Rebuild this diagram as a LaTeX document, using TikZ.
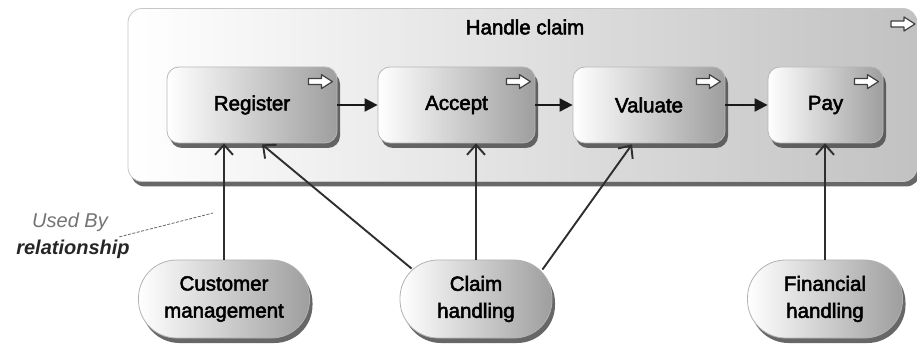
\documentclass[tikz,border=0pt]{standalone}
\usepackage{fontspec}
\setmainfont{Liberation Sans}
\newfontfamily\labelfont[FakeBold=2.5]{Liberation Sans}
\usetikzlibrary{shadows,arrows.meta,calc}

\begin{document}
\begin{tikzpicture}[x=1pt,y=-1pt,
  txt/.style={font=\labelfont\fontsize{20.5}{27}\selectfont, text=black},
  shadowed/.style={drop shadow={shadow xshift=3pt, shadow yshift=-5pt, fill=black!70, opacity=0.85}},
  container/.style={shadowed, rounded corners=14pt, draw=black!22, line width=0.8pt,
    left color=white, right color=black!24, minimum width=789pt, minimum height=173pt},
  process/.style={shadowed, txt, rounded corners=12pt, draw=black!28, line width=0.8pt,
    left color=white, right color=black!38, minimum height=76pt},
  service/.style={shadowed, txt, rounded corners=38pt, draw=black!30, line width=0.8pt,
    left color=white, right color=black!38, minimum height=78pt, align=center},
  trigger/.style={line width=2pt, black!90, -{Triangle[length=13pt,width=13pt]}},
  usedby/.style={line width=1.9pt, black!82, -{Straight Barb[length=10pt,width=18pt]}},
  note/.style={font=\fontsize{20}{24}\selectfont\itshape},
  eventicon/.pic={
    \draw[black!75, fill=white, line width=1.2pt, line join=round]
      (-12,-3) -- (1,-3) -- (1,-7) -- (12,0) -- (1,7) -- (1,3) -- (-12,3) -- cycle;}
]
\useasboundingbox (0,0) rectangle (917,344);

% enclosing process
\node[container] (hc) at (522.5,95) {};
\node[txt, anchor=center] (hctitle) at (525,27) {Handle claim};
\pic at (903,24) {eventicon};

% sub-processes
\node[process, minimum width=170pt] (reg) at (252,105) {Register};
\node[process, minimum width=157pt] (acc) at (456.5,105) {Accept};
\node[process, minimum width=152pt] (val) at (649,105) {Valuate};
\node[process, minimum width=115pt] (pay) at (825.5,105) {Pay};

\foreach \n in {reg,acc,val,pay}
  \pic at ($(\n.north east)+(-17,15)$) {eventicon};

% services
\node[service, minimum width=171pt] (cm) at (224,299) {Customer\\management};
\node[service, minimum width=152pt] (ch) at (476,299) {Claim\\handling};
\node[service, minimum width=155pt] (fh) at (825,299) {Financial\\handling};

% triggering relations
\draw[trigger] (reg) -- (acc);
\draw[trigger] (acc) -- (val);
\draw[trigger] (val) -- (pay);

% used-by relations
\draw[usedby] (cm.north) -- (cm.north |- reg.south);
\draw[usedby] (ch.north) -- (ch.north |- acc.south);
\draw[usedby] (fh.north) -- (fh.north |- pay.south);
\draw[usedby] ($(ch.north west)+(12,9)$) -- ($(reg.south)+(10,1)$);
\draw[usedby] ($(ch.north east)+(-10,10)$) -- ($(val.south)+(-17,1)$);

% annotation
\node[note, text=black!55] (ub) at (70,222) {Used By};
\node[note, font=\fontsize{20}{24}\selectfont\bfseries\itshape, text=black!85] (rel) at (73,249) {relationship};
\coordinate (ubtip) at (213,213);
\draw[black!60, line width=0.8pt, dash pattern=on 3pt off 1.5pt] ($(ub.south east)+(8,2)$) -- (ubtip);
\end{tikzpicture}
\end{document}
